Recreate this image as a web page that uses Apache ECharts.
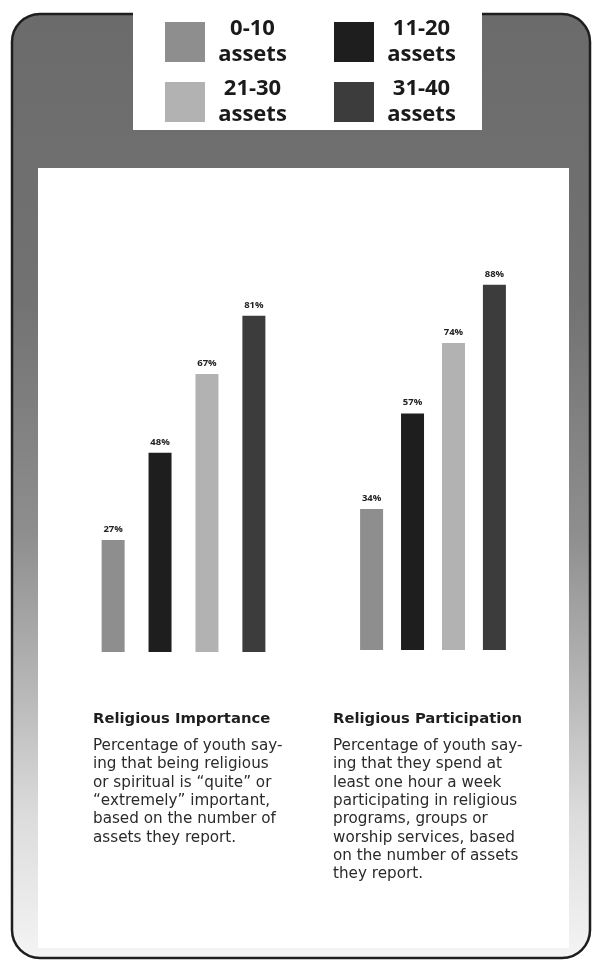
<!DOCTYPE html>
<html>
<head>
<meta charset="utf-8">
<script src="https://cdn.jsdelivr.net/npm/echarts@6/dist/echarts.min.js"></script>
<style>
html,body{margin:0;padding:0;background:#ffffff;}
#chart{width:598px;height:966px;}
</style>
</head>
<body>
<div id="chart"></div>
<script>
// ---- data ----
const assetGroups = ['0-10 assets', '11-20 assets', '21-30 assets', '31-40 assets'];
const measures = ['Religious Importance', 'Religious Participation'];
const importanceValues = [27, 48, 67, 81];
const participationValues = [34, 57, 74, 88];
const importanceText = [
  'Percentage of youth say-',
  'ing that being religious',
  'or spiritual is \u201Cquite\u201D or',
  '\u201Cextremely\u201D important,',
  'based on the number of',
  'assets they report.'
];
const participationText = [
  'Percentage of youth say-',
  'ing that they spend at',
  'least one hour a week',
  'participating in religious',
  'programs, groups or',
  'worship services, based',
  'on the number of assets',
  'they report.'
];

// ---- styles ----
const barColors = ['#8e8e8e', '#1e1e1e', '#b2b2b2', '#3c3c3c'];
const FONT = '"Open Sans", "DejaVu Sans", sans-serif';
const TEXTFONT = '"DejaVu Sans", sans-serif';

const chart = echarts.init(document.getElementById('chart'), null, {renderer: 'canvas'});

function makeSeries(values, axisIdx, gap) {
  return assetGroups.map((name, i) => ({
    name: name,
    type: 'bar',
    xAxisIndex: axisIdx,
    yAxisIndex: axisIdx,
    data: [values[i]],
    barWidth: 23,
    barGap: gap,
    itemStyle: {color: barColors[i]},
    label: {
      show: true,
      position: 'top',
      distance: 6,
      formatter: '{c}%',
      fontFamily: FONT,
      fontSize: 9.5,
      fontWeight: 'bold',
      color: '#222'
    }
  }));
}

const legendCommon = {
  left: 160,
  itemWidth: 40,
  itemHeight: 40,
  itemGap: 39,
  icon: 'rect',
  selectedMode: false,
  formatter: name => '{a|' + name.split(' ')[0] + '}\n{a|' + name.split(' ')[1] + '}',
  textStyle: {
    rich: {
      a: {
        width: 85,
        align: 'center',
        fontFamily: FONT,
        fontSize: 22,
        fontWeight: 'bold',
        lineHeight: 26,
        color: '#1a1a1a'
      }
    }
  }
};

const titleText = {fontFamily: TEXTFONT, fontSize: 14.8, fontWeight: 'bold', color: '#1e1e1e'};
const subText = {fontFamily: TEXTFONT, fontSize: 15.2, lineHeight: 18.3, color: '#2a2a2a'};

const option = {
  backgroundColor: '#ffffff',
  animation: false,
  graphic: [
    {
      type: 'rect', z: -10, silent: true,
      shape: {x: 12, y: 14, width: 578, height: 944, r: 28},
      style: {
        fill: new echarts.graphic.LinearGradient(0, 0, 0, 1, [
          {offset: 0, color: '#6b6b6b'},
          {offset: 0.3, color: '#727272'},
          {offset: 0.55, color: '#8e8e8e'},
          {offset: 0.72, color: '#b8b8b8'},
          {offset: 0.85, color: '#dcdcdc'},
          {offset: 1, color: '#f4f4f4'}
        ])
      }
    },
    {
      type: 'rect', z: -9, silent: true,
      shape: {x: 38, y: 168, width: 531, height: 780},
      style: {fill: '#ffffff'}
    },
    {
      type: 'rect', z: -8, silent: true,
      shape: {x: 12, y: 14, width: 578, height: 944, r: 28},
      style: {fill: null, stroke: '#1e1e1e', lineWidth: 2.5}
    },
    {
      type: 'rect', z: -7, silent: true,
      shape: {x: 133, y: 0, width: 349, height: 130},
      style: {fill: '#ffffff'}
    }
  ],
  legend: [
    Object.assign({}, legendCommon, {top: 13, data: [assetGroups[0], assetGroups[1]]}),
    Object.assign({}, legendCommon, {top: 73, data: [assetGroups[2], assetGroups[3]]})
  ],
  title: [
    {
      text: measures[0],
      subtext: importanceText.join('\n'),
      left: 88, top: 707,
      itemGap: 10,
      textStyle: titleText,
      subtextStyle: subText
    },
    {
      text: measures[1],
      subtext: participationText.join('\n'),
      left: 328, top: 707,
      itemGap: 10,
      textStyle: titleText,
      subtextStyle: subText
    }
  ],
  grid: [
    {left: 95, width: 177, top: 237, height: 415},
    {left: 355, width: 156, top: 235, height: 415}
  ],
  xAxis: [
    {type: 'category', gridIndex: 0, data: [measures[0]], show: false},
    {type: 'category', gridIndex: 1, data: [measures[1]], show: false}
  ],
  yAxis: [
    {type: 'value', gridIndex: 0, min: 0, max: 100, show: false},
    {type: 'value', gridIndex: 1, min: 0, max: 100, show: false}
  ],
  series: makeSeries(importanceValues, 0, '104%').concat(makeSeries(participationValues, 1, '78%'))
};

chart.setOption(option);
</script>
</body>
</html>
